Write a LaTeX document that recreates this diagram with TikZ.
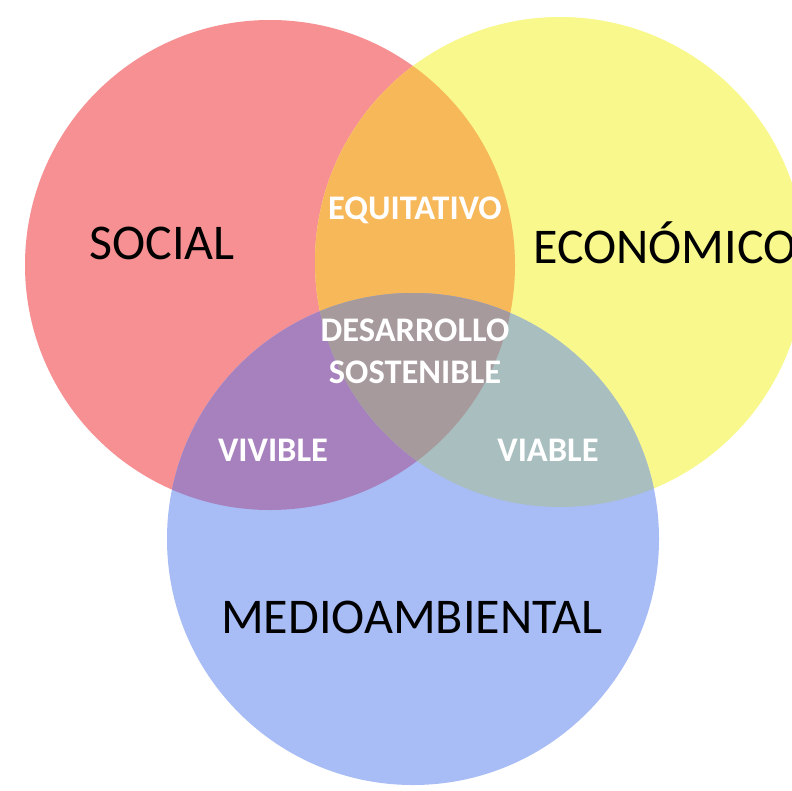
\documentclass[tikz,border=0pt]{standalone}
\usepackage{fontspec}
\setmainfont{Carlito}
\usepackage{xcolor}
\definecolor{soc-red}{HTML}{F79092}
\definecolor{eco-yellow}{HTML}{F8F88C}
\definecolor{amb-blue}{HTML}{A8BCF6}
\definecolor{equi-orange}{HTML}{F7B85A}
\definecolor{vivi-purple}{HTML}{A780BE}
\definecolor{via-teal}{HTML}{A8BEBF}
\definecolor{sost-grey}{HTML}{A69A9C}

\begin{document}
\begin{tikzpicture}[x=1pt, y=-1pt,
	area/.style={font=\fontsize{50}{54}\selectfont, text=black},
	meet/.style={font=\bfseries\fontsize{34.5}{42}\selectfont, text=white, align=center}]
	\useasboundingbox (0,0) rectangle (792,790);
	\fill[white] (0,0) rectangle (792,790);
	% the three spheres
	\fill[soc-red] (270,265) circle[radius=245];
	\fill[eco-yellow] (560,262) circle[radius=245];
	\fill[amb-blue] (413,539) circle[radius=246];
	% pairwise overlaps
	\begin{scope}
		\clip (270,265) circle[radius=245];
		\fill[equi-orange] (560,262) circle[radius=245];
		\fill[vivi-purple] (413,539) circle[radius=246];
	\end{scope}
	\begin{scope}
		\clip (560,262) circle[radius=245];
		\fill[via-teal] (413,539) circle[radius=246];
	\end{scope}
	% centre
	\begin{scope}
		\clip (270,265) circle[radius=245];
		\clip (560,262) circle[radius=245];
		\fill[sost-grey] (413,539) circle[radius=246];
	\end{scope}
	\node[area] (social) at (162,243) {SOCIAL};
	\node[area, anchor=west, inner sep=0pt] (eco) at (533,243) {ECONÓMICO};
	\node[area] (ambiental) at (412,617) {MEDIOAMBIENTAL};
	\node[meet] (equi) at (415,210) {EQUITATIVO};
	\node[meet] (sost) at (415,351) {DESARROLLO\\SOSTENIBLE};
	\node[meet] (vivible) at (273,450) {VIVIBLE};
	\node[meet] (viable) at (548,450) {VIABLE};
\end{tikzpicture}
\end{document}
